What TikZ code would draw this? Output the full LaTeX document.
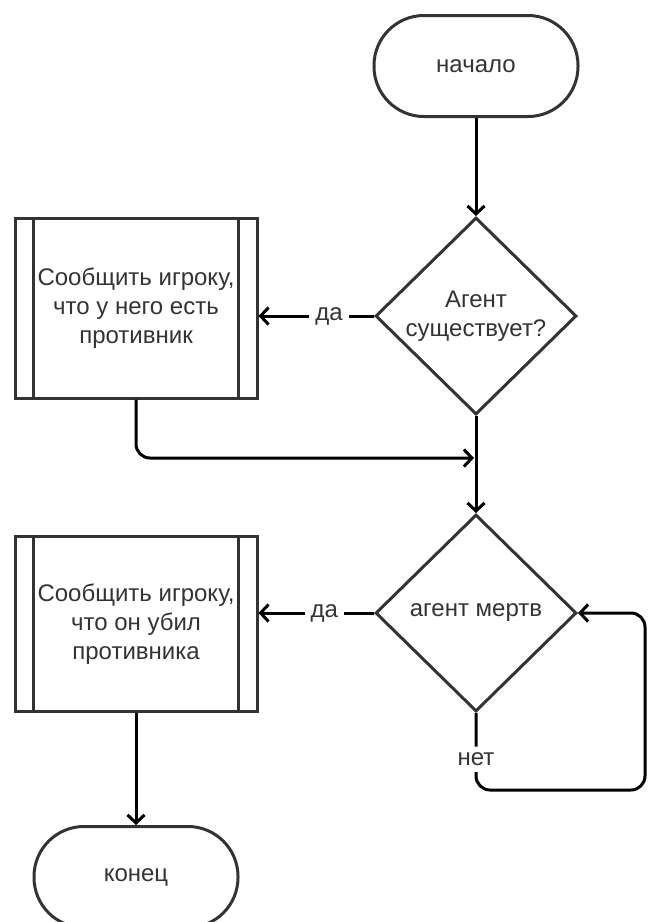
\documentclass[tikz,border=0pt]{standalone}
\usepackage{fontspec}
\setmainfont{Liberation Sans}
\usetikzlibrary{arrows.meta}
\usetikzlibrary{shapes.geometric}
\colorlet{colorLine}{black!80}
\colorlet{colorText}{black!80}
\tikzset{
   every path/.style={>={Straight Barb[length=8pt,width=17pt]}},
   term/.style={draw=colorLine,line width=3pt,rounded corners=50pt,minimum width=204pt,minimum height=101pt,text=colorText},
   decide/.style={diamond,draw=colorLine,line width=3pt,aspect=1,minimum width=201pt,minimum height=197pt,inner sep=0pt,align=center,text=colorText},
   subproc/.style={draw=colorLine,line width=3pt,minimum width=242pt,minimum height=#1,align=center,text=colorText},
   bar/.style={draw=colorLine,line width=3pt},
   flow/.style={->,line width=3pt,color=black},
   lbl/.style={fill=white,inner sep=6pt,text=colorText},
}

\begin{document}
\begin{tikzpicture}[x=1pt,y=-1pt,font=\fontsize{24}{29}\selectfont]

        \useasboundingbox (0,0) rectangle (648,922);

        \node[term] (start) at (476,66) {начало};

        \node[decide] (q1) at (476,316) {Агент\\существует?};
        \node[subproc=180pt] (msg1) at (136,308) {Сообщить игроку,\\что у него есть\\противник};

        \node[decide] (q2) at (476,613) {агент мертв};
        \node[subproc=175pt] (msg2) at (136,624) {Сообщить игроку,\\что он убил\\противника};

        \node[term] (finish) at (136,877) {конец};

        % side bars of the subprocess boxes
        \foreach \n in {msg1,msg2} {
          \draw[bar] ([xshift=20pt]\n.north west) -- ([xshift=20pt]\n.south west);
          \draw[bar] ([xshift=-20pt]\n.north east) -- ([xshift=-20pt]\n.south east);
        }

        \coordinate (join) at (474,458);
        \coordinate (loop) at (645,790);

        \draw[flow] (start) -- (q1);
        \draw[flow] (q1.west) -- node[lbl,pos=0.39] {да} (q1.west -| msg1.east);
        \draw[flow,rounded corners=14pt] (msg1.south) |- (join);
        \draw[flow] (q1) -- (q2);

        \draw[flow] (q2.west) -- node[lbl,pos=0.43] {да} (q2.west -| msg2.east);
        \draw[flow,rounded corners=14pt] (q2.south) |- node[lbl,pos=0.3] {нет} (loop) |- (q2.east);
        \draw[flow] (msg2) -- (finish);

      \end{tikzpicture}
\end{document}
